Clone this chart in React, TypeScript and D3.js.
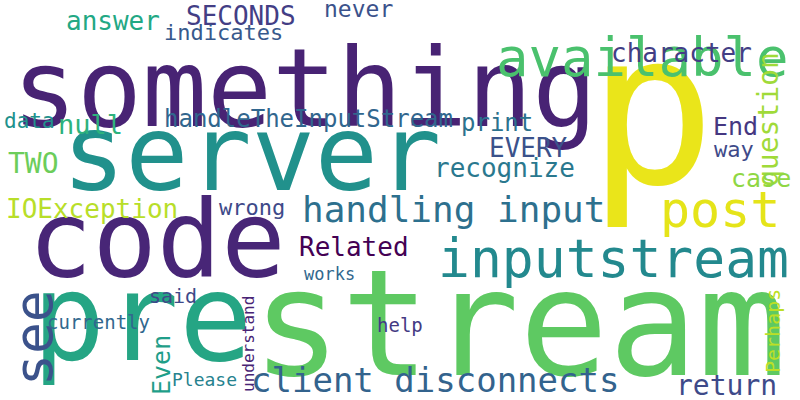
import * as d3 from "d3";
import { useEffect, useRef } from "react";

const words = ["something","p","server","code","stream","pre","available","inputstream","post","handling input","client disconnects","see","SECONDS","answer","indicates","never","character","question","way","End","case","EVERY","recognize","print","handleTheInputStream","null","data","TWO","IOException","wrong","Related","works","said","currently","understand","Even","Please","help","return","Perhaps"];
const sizes = [108,212,105,107,148,122,54,53,50,36,34,53,26,26,22,23,26,28,22,25,25,26,26,24,24,27,21,28,26,22,26,17,20,19,16,25,18,19,28,20];
const xs = [12,588,62,28,252,32,496,438,660,302,251,52,186,66,164,324,611,778,714,713,731,489,434,461,164,58,4,8,6,219,299,304,149,47,254,170,172,377,676,780];
const ys = [126,183,190,276,375,360,76,277,227,222,392,386,25,30,40,17,62,187,157,135,187,157,177,131,127,134,128,173,218,215,256,280,303,329,392,395,386,332,395,373];
const rots = [0,0,0,0,0,0,0,0,0,0,0,-90,0,0,0,0,0,-90,0,0,0,0,0,0,0,0,0,0,0,0,0,0,0,0,-90,-90,0,0,0,-90];
const colors = ["#482374","#eae51a","#21918c","#482677","#5ec962","#25a584","#4ac16d","#23898e","#e5e419","#2d708e","#33638d","#3b528b","#433e85","#22a884","#38598c","#3b528b","#433e85","#a0da39","#3e4a89","#453781","#8fd744","#3b528b","#2a788e","#2c728e","#31668e","#2db27d","#21918c","#6ccd5a","#b8de29","#3e4a89","#440154","#31688e","#3e4989","#31688e","#482475","#1f9e89","#26828e","#443a83","#3e4a89","#bddf26"];

export default function App() {
  const ref = useRef<SVGSVGElement>(null);
  useEffect(() => {
    if (!ref.current) return;
    const svg = d3.select(ref.current);
    svg.selectAll("*").remove();
    svg.append("rect").attr("width", 800).attr("height", 400).attr("fill", "#fff");
    svg.selectAll("text.w")
      .data(words.map((w, i) => ({ w, i })))
      .enter()
      .append("text")
      .attr("class", "w")
      .attr("transform", (d) => `translate(${xs[d.i]},${ys[d.i]}) rotate(${rots[d.i]})`)
      .attr("font-family", "'DejaVu Sans Mono', monospace")
      .attr("font-size", (d) => sizes[d.i])
      .attr("fill", (d) => colors[d.i])
      .style("white-space", "pre")
      .text((d) => d.w);
  }, []);
  return (
    <svg ref={ref} width={800} height={400} viewBox="0 0 800 400"
      style={{ position: "absolute", left: 0, top: 0, display: "block" }} />
  );
}
